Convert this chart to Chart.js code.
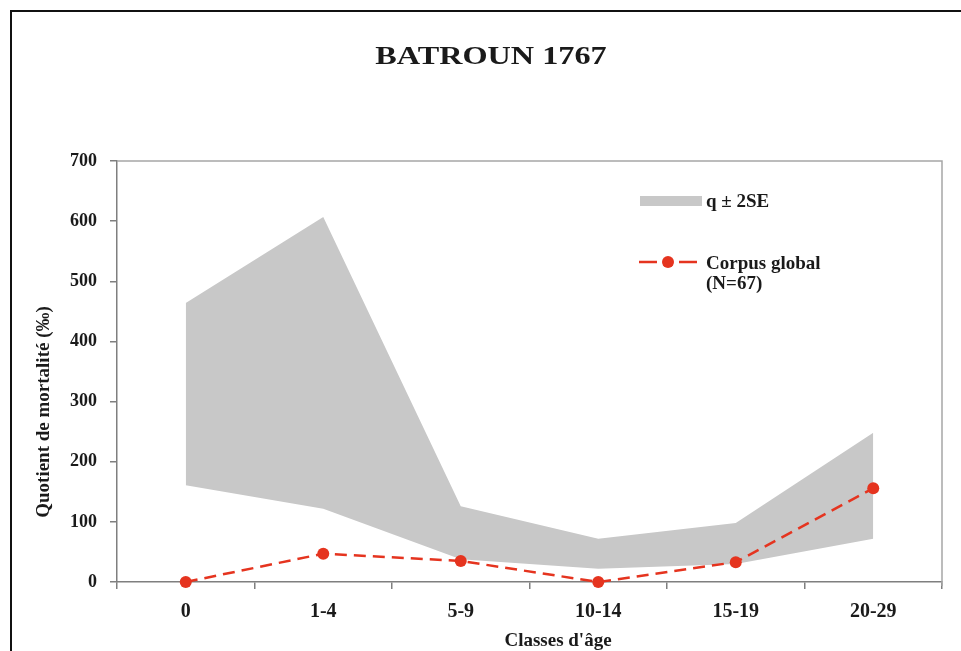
<!DOCTYPE html>
<html>
<head>
<meta charset="utf-8">
<script src="https://cdn.jsdelivr.net/npm/chart.js@4"></script>
<style>
  html, body { margin: 0; padding: 0; background: #fff; }
  #wrap { position: relative; width: 961px; height: 651px; overflow: hidden; font-family: "Liberation Serif", "Times New Roman", serif; font-weight: bold; color: #1a1a1a; }
  #frame { position: absolute; left: 10px; top: 10px; width: 970px; height: 660px; border-top: 2px solid #111; border-left: 2px solid #111; }
  canvas { position: absolute; left: 0; top: 0; }
  .txt { position: absolute; white-space: nowrap; }
  #title { left: 491px; top: 56px; font-size: 26px; transform: translate(-50%, -50%) scaleX(1.24); }
  #ytitle { left: 43px; top: 412px; font-size: 19px; transform: translate(-50%, -50%) rotate(-90deg); }
  #xtitle { left: 558px; top: 640px; font-size: 19px; transform: translate(-50%, -50%); }
  .leg { font-size: 19px; line-height: 20px; }
</style>
</head>
<body>
<div id="wrap">
  <canvas id="c" width="961" height="651"></canvas>
  <div id="frame"></div>
  <div id="title" class="txt">BATROUN 1767</div>
  <div id="ytitle" class="txt">Quotient de mortalité (‰)</div>
  <div id="xtitle" class="txt">Classes d'âge</div>

  <div class="txt" style="left:640px; top:196px; width:62px; height:10px; background:#c8c8c8;"></div>
  <div class="txt leg" style="left:706px; top:191px;">q ± 2SE</div>

  <svg class="txt" style="left:636px; top:252px;" width="68" height="20">
    <line x1="3" y1="10" x2="66" y2="10" stroke="#e5341f" stroke-width="2.5" stroke-dasharray="18 7 8 7"></line>
    <circle cx="32" cy="10" r="6" fill="#e5341f"></circle>
  </svg>
  <div class="txt leg" style="left:706px; top:253px;">Corpus global<br>(N=67)</div>
</div>

<script>
const categories = ['0', '1-4', '5-9', '10-14', '15-19', '20-29'];
const upperBand = [464, 607, 126, 72, 98, 248];
const lowerBand = [161, 122, 38, 22, 30, 72];
const corpusGlobal = [0, 47, 35, 0, 33, 156];

const red = '#e5341f';
const axisGray = '#7f7f7f';

// top and right edge of the plot box
const boxLines = {
    id: 'boxLines',
    afterDatasetsDraw(chart) {
        const { ctx, chartArea: a } = chart;
        ctx.save();
        ctx.strokeStyle = '#a6a6a6';
        ctx.lineWidth = 1.5;
        ctx.beginPath();
        ctx.moveTo(a.left, a.top);
        ctx.lineTo(a.right, a.top);
        ctx.lineTo(a.right, a.bottom + 4);
        ctx.stroke();
        ctx.restore();
    }
};

new Chart(document.getElementById('c'), {
    type: 'line',
    data: {
        labels: categories,
        datasets: [
            {
                label: 'Corpus global (N=67)',
                data: corpusGlobal,
                borderColor: red,
                borderWidth: 2.5,
                borderDash: [12, 7],
                pointRadius: 6,
                pointBackgroundColor: red,
                pointBorderWidth: 0,
                fill: false,
                tension: 0,
                clip: false
            },
            {
                label: 'q + 2SE',
                data: upperBand,
                borderWidth: 0,
                pointRadius: 0,
                backgroundColor: '#c8c8c8',
                fill: '+1',
                tension: 0
            },
            {
                label: 'q - 2SE',
                data: lowerBand,
                borderWidth: 0,
                pointRadius: 0,
                fill: false,
                tension: 0
            }
        ]
    },
    options: {
        responsive: false,
        animation: false,
        layout: { padding: { top: 161, right: 19, left: 0, bottom: 0 } },
        plugins: {
            legend: { display: false },
            tooltip: { enabled: false }
        },
        scales: {
            x: {
                offset: true,
                afterFit: s => { s.height = 69; },
                grid: { offset: true, drawOnChartArea: false, tickLength: 7, color: axisGray, lineWidth: 1.5 },
                border: { color: axisGray, width: 1.5 },
                ticks: {
                    padding: 11,
                    color: '#1a1a1a',
                    font: { family: '"Liberation Serif", serif', weight: 'bold', size: 20 }
                }
            },
            y: {
                min: 0,
                max: 700,
                afterFit: s => { s.width = 117; },
                grid: { drawOnChartArea: false, tickLength: 7, color: axisGray, lineWidth: 1.5 },
                border: { color: axisGray, width: 1.5 },
                ticks: {
                    stepSize: 100,
                    padding: 13,
                    color: '#1a1a1a',
                    font: { family: '"Liberation Serif", serif', weight: 'bold', size: 18 }
                }
            }
        }
    },
    plugins: [boxLines]
});
</script>
</body>
</html>
